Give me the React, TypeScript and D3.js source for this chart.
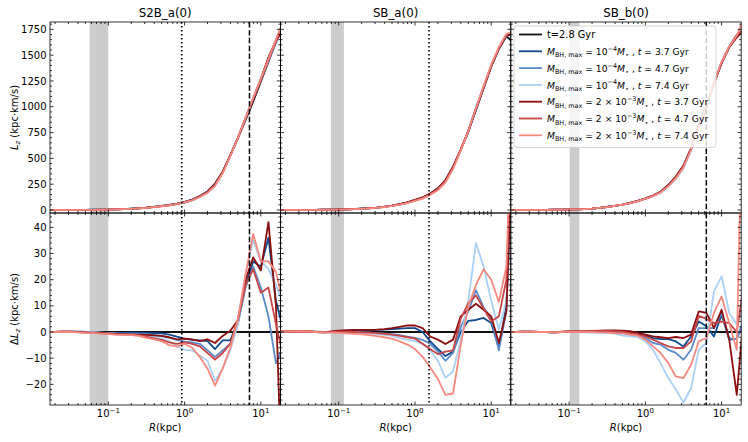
import React, { useRef, useEffect } from 'react';
import * as d3 from 'd3';

// radial bins (kpc), 0.1 dex apart
const radius = [
  0.0158, 0.02, 0.0251, 0.0316, 0.0398, 0.0501, 0.0631, 0.0794, 0.1, 0.126, 0.158, 0.2, 0.251, 0.316,
  0.398, 0.501, 0.631, 0.794, 1.0, 1.26, 1.58, 2.0, 2.51, 3.16, 3.98, 5.01, 6.31, 7.94, 10.0, 12.6,
  15.8, 20.0,
];

const panelTitles = ['S2B_a(0)', 'SB_a(0)', 'SB_b(0)'];
const bandR: [number, number][] = [[0.057, 0.1], [0.079, 0.117], [0.102, 0.136]];
const dottedR = [0.92, 1.53, null];
const dashedR = [7.1, null, 6.3];

// L_z at t=2.8 Gyr
const baseS2Ba = [
  0.3, 0.45, 0.6, 0.9, 1.2, 1.7, 2.4, 3.3, 4.6, 6.5, 9, 12.5, 17, 23, 31, 40, 50, 62, 78, 100, 135, 180,
  255, 370, 530, 695, 870, 1050, 1243, 1436, 1630, 1830,
];
const baseSBa = [
  0.3, 0.45, 0.6, 0.9, 1.2, 1.7, 2.4, 3.3, 4.6, 6.5, 9, 12.5, 17, 23, 31, 42, 55, 72, 95, 120, 160, 210,
  290, 420, 580, 758, 968, 1178, 1388, 1566, 1680, 1620,
];
const baseSBb = [
  0.3, 0.45, 0.6, 0.9, 1.2, 1.7, 2.4, 3.3, 4.6, 6.5, 9, 12.5, 20, 29, 40, 52, 68, 88, 112, 140, 177, 242,
  323, 430, 597, 807, 1000, 1227, 1420, 1581, 1695, 1740,
];

// Delta L_z, order: 1e-4 (3.7, 4.7, 7.4 Gyr), 2e-3 (3.7, 4.7, 7.4 Gyr)
const deltaS2Ba = [
  [0, 0, 0.1, 0.2, 0.1, 0, -0.1, -0.2, -0.3, -0.3, -0.3, -0.2, -0.2, -0.3, -0.4, -0.5, -1.0, -1.8, -2.5, -3.0, -3.2, -3.5, -6.5, -3.2, -3.2, 4, 18, 27, 25, 36, 12, 0],
  [0, 0, 0.1, 0.2, 0.1, 0, -0.1, -0.3, -0.4, -0.5, -0.6, -0.6, -0.7, -0.9, -1.2, -1.6, -2.2, -3.0, -3.7, -4.0, -4.5, -7.0, -9.5, -7.0, -4.5, 3, 17, 25, 17, 6, -12, -5],
  [0, 0.1, 0.3, 0.4, 0.3, 0.1, 0, -0.2, -0.4, -0.6, -0.7, -0.8, -1.0, -1.4, -1.9, -2.5, -3.5, -5.5, -6.8, -7.0, -9.0, -11, -18.5, -14, -7, 3, 22, 35, 27, 24, 18, 10],
  [0, 0, 0.1, 0.1, 0, -0.1, -0.2, -0.3, -0.5, -0.7, -0.8, -0.9, -1.0, -1.1, -1.3, -1.5, -2.0, -2.8, -2.5, -2.8, -3.5, -2.8, -4.2, -1.5, 0.5, 4.5, 20, 28.5, 23.5, 42, 10, -80],
  [0, 0, 0.1, 0.1, 0, -0.2, -0.3, -0.5, -0.7, -0.9, -1.0, -1.1, -1.3, -1.8, -2.4, -3.0, -4.0, -4.5, -4.0, -4.5, -5.5, -8, -10.5, -8, -4.5, 5, 18, 24, 15, 17, 3, -10],
  [0, 0, 0.1, 0, -0.1, -0.3, -0.4, -0.6, -0.8, -1.0, -1.1, -1.2, -1.5, -2.2, -2.8, -3.5, -5.0, -5.5, -4.5, -6.0, -9.5, -14, -20.5, -14, -6, 5, 22, 37.5, 27, 27, 23, 10],
];
const deltaSBa = [
  [0.2, 0.2, 0.2, 0.3, 0.2, 0.1, 0, 0, 0.1, 0.3, 0.4, 0.5, 0.6, 0.8, 0.9, 1.1, 1.3, 1.5, 1.5, 0, -3.5, -6.5, -9.2, -7.5, 0, 4.3, 4.6, 5.4, 3.4, -6, 10, 80],
  [0.2, 0.2, 0.2, 0.3, 0.2, 0, -0.1, -0.1, 0, 0.1, 0, -0.1, -0.2, -0.4, -0.6, -0.8, -1.2, -1.8, -2.2, -3, -4.5, -7.5, -11, -8, 2, 8, 16, 9.5, 5, -7, 8, 80],
  [0.2, 0.2, 0.2, 0.3, 0.2, 0, -0.1, -0.1, 0, 0, -0.1, -0.3, -0.5, -0.8, -1.1, -1.5, -2.3, -3, -3.5, -4.5, -7, -11, -17.5, -15, -3, 12, 34, 25, 12, 1, 12, 80],
  [0.2, 0.2, 0.2, 0.3, 0.2, 0, -0.1, 0.2, 0.5, 0.7, 0.8, 0.8, 0.8, 0.9, 1.1, 1.5, 2.0, 2.5, 2.5, 1.5, -1.7, -2.9, -4.6, -2.9, 6, 8.5, 10.8, 8.5, 6, -4.2, 7.9, 90],
  [0.2, 0.2, 0.2, 0.3, 0.2, 0, -0.1, 0, 0.1, 0.1, 0, -0.1, -0.2, -0.4, -0.7, -1.0, -1.5, -2.0, -2.5, -4.5, -6.5, -8.5, -7.5, -7, 5, 11, 14, 9, 4, 6, 20, 100],
  [0.2, 0.2, 0.2, 0.3, 0.2, 0, -0.1, -0.2, -0.3, -0.5, -0.7, -0.9, -1.2, -1.6, -2.0, -2.5, -3.6, -4.8, -6.5, -9.5, -13.5, -18, -24, -23.5, -5, 10, 18, 24, 20, 11.5, 25, 110],
];
const deltaSBb = [
  [0, 0, 0.1, 0.1, 0, 0, -0.1, 0, 0.1, 0.2, 0.2, 0.3, 0.3, 0.4, 0.3, 0, -0.6, -1.0, -1.4, -2.3, -2.7, -2.7, -3.6, -5.5, -1.7, 4, 2.2, -1.7, 6.6, -2.9, -2.5, 5],
  [0, 0, 0.1, 0.1, 0, 0, -0.1, 0, 0.1, 0.2, 0.2, 0.2, 0.2, 0.2, 0, -0.4, -1.0, -1.6, -2.3, -4.2, -4.8, -6.8, -8, -10.6, -6.8, 1.5, 1.5, 1.5, 7.3, -2.3, -2.7, 5],
  [0, 0, 0.1, 0.1, 0, 0, -0.1, 0, 0, 0, -0.1, -0.2, -0.3, -0.4, -0.6, -1.4, -1.7, -1.9, -3.6, -6.8, -11.9, -17.6, -22, -27, -21.4, -6.8, -4.2, 15.6, 21.3, 7.3, 3, 10],
  [0, 0, 0.1, 0.1, 0, 0, -0.1, 0.1, 0.2, 0.3, 0.3, 0.4, 0.5, 0.6, 0.6, 0.5, 0.3, -0.3, -1.0, -1.7, -2.0, -2.3, -1.9, -2.3, -1.0, 7.9, 7.3, 1.5, 8.5, -3, -24, 10],
  [0, 0, 0.1, 0.1, 0, 0, -0.1, 0, 0.1, 0.2, 0.3, 0.3, 0.4, 0.4, 0.3, 0.1, -0.4, -1.0, -1.7, -2.9, -4.2, -5.5, -6.1, -6.1, -3.6, 6.2, 5, 3.4, 4, 3.4, 0, 20],
  [0, 0, 0.1, 0.1, 0, 0, -0.1, 0, 0.1, 0.1, 0.1, 0, -0.1, -0.2, -0.4, -0.5, -1.0, -1.4, -2.9, -5.5, -8, -11.9, -17, -17.6, -12.5, -3.6, -2.3, 7.3, 13.6, 3.4, -6.8, 130],
];

const bases = [baseS2Ba, baseSBa, baseSBb];
const deltas = [deltaS2Ba, deltaSBa, deltaSBb];

const seriesColors = ['#111111', '#0d4a8f', '#5b8bcb', '#a9d0f6', '#8c0d0d', '#c94545', '#f7887e'];
const seriesMass = ['', '10', '10', '10', '2 × 10', '2 × 10', '2 × 10'];
const seriesExp = ['', '−4', '−4', '−4', '−3', '−3', '−3'];
const seriesTime = ['2.8', '3.7', '4.7', '7.4', '3.7', '4.7', '7.4'];

const lzTicks = [0, 250, 500, 750, 1000, 1250, 1500, 1750];
const dlzTicks = [-20, -10, 0, 10, 20, 30, 40];
const rTicks = [0.1, 1, 10];
const rTickExp = ['−1', '0', '1'];

const FONT = 'DejaVu Sans, sans-serif';

type Seg = { t: string; it?: boolean; pos?: 'sub' | 'sup' };

function addMath(text: d3.Selection<SVGTextElement, unknown, null, undefined>, segs: Seg[], size: number) {
  let off = 0;
  segs.forEach((s) => {
    const target = s.pos === 'sub' ? size * 0.28 : s.pos === 'sup' ? -size * 0.45 : 0;
    text
      .append('tspan')
      .attr('dy', target - off)
      .attr('font-size', s.pos ? size * 0.7 : size)
      .attr('font-style', s.it ? 'italic' : 'normal')
      .text(s.t);
    off = target;
  });
}

function App() {
  const svgRef = useRef<SVGSVGElement>(null);

  useEffect(() => {
    const svg = d3.select(svgRef.current);
    svg.selectAll('*').remove();

    const left = 50;
    const panelW = 230.4;
    const yTop0 = 22;
    const yMid = 213;
    const yBot1 = 405;

    const yTop = d3.scaleLinear().domain([-29, 1821]).range([yMid, yTop0]);
    const yBot = d3.scaleLinear().domain([-27.9, 45.5]).range([yBot1, yMid]);

    const majorLen = 3.5;
    const minorLen = 2;

    panelTitles.forEach((title, p) => {
      const x0 = left + p * panelW;
      const x1 = x0 + panelW;
      const x = d3.scaleLog().domain([0.01718, 18.07]).range([x0, x1]);
      const xMinor: number[] = [];
      [0.01, 0.1, 1, 10].forEach((dec) => {
        for (let k = 2; k <= 9; k++) {
          const v = k * dec;
          if (v > 0.01718 && v < 18.07) xMinor.push(v);
        }
      });

      const rows = [
        { y: yTop, r0: yTop0, r1: yMid, top: true },
        { y: yBot, r0: yMid, r1: yBot1, top: false },
      ];

      rows.forEach((row, ri) => {
        const g = svg.append('g');
        const clipId = `clip-${p}-${ri}`;
        g.append('clipPath')
          .attr('id', clipId)
          .append('rect')
          .attr('x', x0)
          .attr('y', row.r0)
          .attr('width', panelW)
          .attr('height', row.r1 - row.r0);

        const plot = g.append('g').attr('clip-path', `url(#${clipId})`);

        // bar region band
        plot
          .append('rect')
          .attr('x', x(bandR[p][0]))
          .attr('width', x(bandR[p][1]) - x(bandR[p][0]))
          .attr('y', row.r0)
          .attr('height', row.r1 - row.r0)
          .attr('fill', '#000')
          .attr('opacity', 0.2);

        const line = d3
          .line<number>()
          .x((_, i) => x(radius[i]))
          .y((v) => row.y(v));

        const base = bases[p];
        const curves = row.top
          ? [base, ...deltas[p].map((d) => d.map((v, i) => base[i] + v))]
          : [base.map(() => 0), ...deltas[p]];

        curves.forEach((c, si) => {
          plot
            .append('path')
            .attr('d', line(c))
            .attr('fill', 'none')
            .attr('stroke', seriesColors[si])
            .attr('stroke-width', 1.8)
            .attr('stroke-linejoin', 'round');
        });

        const dot = dottedR[p];
        if (dot !== null) {
          plot
            .append('line')
            .attr('x1', x(dot))
            .attr('x2', x(dot))
            .attr('y1', row.r0)
            .attr('y2', row.r1)
            .attr('stroke', '#000')
            .attr('stroke-width', 1.6)
            .attr('stroke-dasharray', '1.6,2.4');
        }
        const dash = dashedR[p];
        if (dash !== null) {
          plot
            .append('line')
            .attr('x1', x(dash))
            .attr('x2', x(dash))
            .attr('y1', row.r0)
            .attr('y2', row.r1)
            .attr('stroke', '#000')
            .attr('stroke-width', 1.5)
            .attr('stroke-dasharray', '5.5,2.4');
        }

        // ticks, all pointing inward
        const tickG = g.append('g').attr('stroke', '#000').attr('stroke-width', 0.8);
        const xTicks = [
          ...rTicks.map((v) => ({ v, len: majorLen })),
          ...xMinor.map((v) => ({ v, len: minorLen })),
        ];
        xTicks.forEach(({ v, len }) => {
          tickG.append('line').attr('x1', x(v)).attr('x2', x(v)).attr('y1', row.r1).attr('y2', row.r1 - len);
          tickG.append('line').attr('x1', x(v)).attr('x2', x(v)).attr('y1', row.r0).attr('y2', row.r0 + len);
        });
        const dom = row.y.domain();
        const majors = row.top ? lzTicks : dlzTicks;
        const step = row.top ? 50 : 2;
        const yTicks = d3
          .range(Math.ceil(dom[0] / step) * step, dom[1], step)
          .map((v) => ({ v, len: majors.includes(Math.round(v)) ? majorLen : minorLen }));
        yTicks.forEach(({ v, len }) => {
          const yy = row.y(v);
          tickG.append('line').attr('x1', x0).attr('x2', x0 + len).attr('y1', yy).attr('y2', yy);
          tickG.append('line').attr('x1', x1).attr('x2', x1 - len).attr('y1', yy).attr('y2', yy);
        });

        g.append('rect')
          .attr('x', x0)
          .attr('y', row.r0)
          .attr('width', panelW)
          .attr('height', row.r1 - row.r0)
          .attr('fill', 'none')
          .attr('stroke', '#000')
          .attr('stroke-width', 0.8);

        if (p === 0) {
          majors.forEach((v) => {
            g.append('text')
              .attr('x', x0 - 3.5)
              .attr('y', row.y(v) + 3.6)
              .attr('text-anchor', 'end')
              .attr('font-family', FONT)
              .attr('font-size', 10)
              .attr('fill', '#000')
              .text(v < 0 ? `−${Math.abs(v)}` : `${v}`);
          });
        }

        if (!row.top) {
          rTicks.forEach((v, ti) => {
            const t = g
              .append('text')
              .attr('x', x(v))
              .attr('y', 417)
              .attr('text-anchor', 'middle')
              .attr('font-family', FONT)
              .attr('fill', '#000');
            addMath(t, [{ t: '10' }, { t: rTickExp[ti], pos: 'sup' }], 10);
          });
          const xl = g
            .append('text')
            .attr('x', (x0 + x1) / 2)
            .attr('y', 431)
            .attr('text-anchor', 'middle')
            .attr('font-family', FONT)
            .attr('fill', '#000');
          addMath(xl, [{ t: 'R', it: true }, { t: '(kpc)' }], 10);
        }
      });

      svg
        .append('text')
        .attr('x', (x0 + x1) / 2)
        .attr('y', 17)
        .attr('text-anchor', 'middle')
        .attr('font-family', FONT)
        .attr('font-size', 11.8)
        .attr('fill', '#000')
        .text(title);
    });

    // y labels
    const yl1 = svg
      .append('text')
      .attr('transform', `translate(17.5,${(yTop0 + yMid) / 2}) rotate(-90)`)
      .attr('text-anchor', 'middle')
      .attr('font-family', FONT)
      .attr('fill', '#000')
      .style('white-space', 'pre');
    addMath(yl1, [{ t: 'L', it: true }, { t: 'z', it: true, pos: 'sub' }, { t: ' (kpc·km/s)' }], 10);
    const yl2 = svg
      .append('text')
      .attr('transform', `translate(17.5,${(yMid + yBot1) / 2}) rotate(-90)`)
      .attr('text-anchor', 'middle')
      .attr('font-family', FONT)
      .attr('fill', '#000')
      .style('white-space', 'pre');
    addMath(yl2, [{ t: 'Δ' }, { t: 'L', it: true }, { t: 'z', it: true, pos: 'sub' }, { t: ' (kpc·km/s)' }], 10);

    // legend
    const lg = svg.append('g');
    lg.append('rect')
      .attr('x', 514)
      .attr('y', 26)
      .attr('width', 202)
      .attr('height', 121.5)
      .attr('rx', 3)
      .attr('fill', '#fff')
      .attr('fill-opacity', 0.8)
      .attr('stroke', '#cccccc')
      .attr('stroke-width', 0.8);
    seriesColors.forEach((c, i) => {
      const cy = 34.5 + i * 16.8;
      lg.append('line')
        .attr('x1', 519)
        .attr('x2', 542)
        .attr('y1', cy)
        .attr('y2', cy)
        .attr('stroke', c)
        .attr('stroke-width', 1.8);
      const t = lg
        .append('text')
        .attr('x', 547)
        .attr('y', cy + 3.6)
        .attr('font-family', FONT)
        .attr('fill', '#000')
        .style('white-space', 'pre');
      if (i === 0) {
        addMath(t, [{ t: `t=${seriesTime[i]} Gyr` }], 9.8);
      } else {
        addMath(
          t,
          [
            { t: 'M', it: true },
            { t: 'BH, max', pos: 'sub' },
            { t: ` = ${seriesMass[i]}` },
            { t: seriesExp[i], pos: 'sup' },
            { t: 'M', it: true },
            { t: '⋆', pos: 'sub' },
            { t: ' , ' },
            { t: 't', it: true },
            { t: ` = ${seriesTime[i]} Gyr` },
          ],
          9.2
        );
      }
    });
  }, []);

  return (
    <svg
      ref={svgRef}
      width={748}
      height={442}
      style={{ position: 'absolute', left: 0, top: 0, background: '#fff' }}
    />
  );
}

export default App;
